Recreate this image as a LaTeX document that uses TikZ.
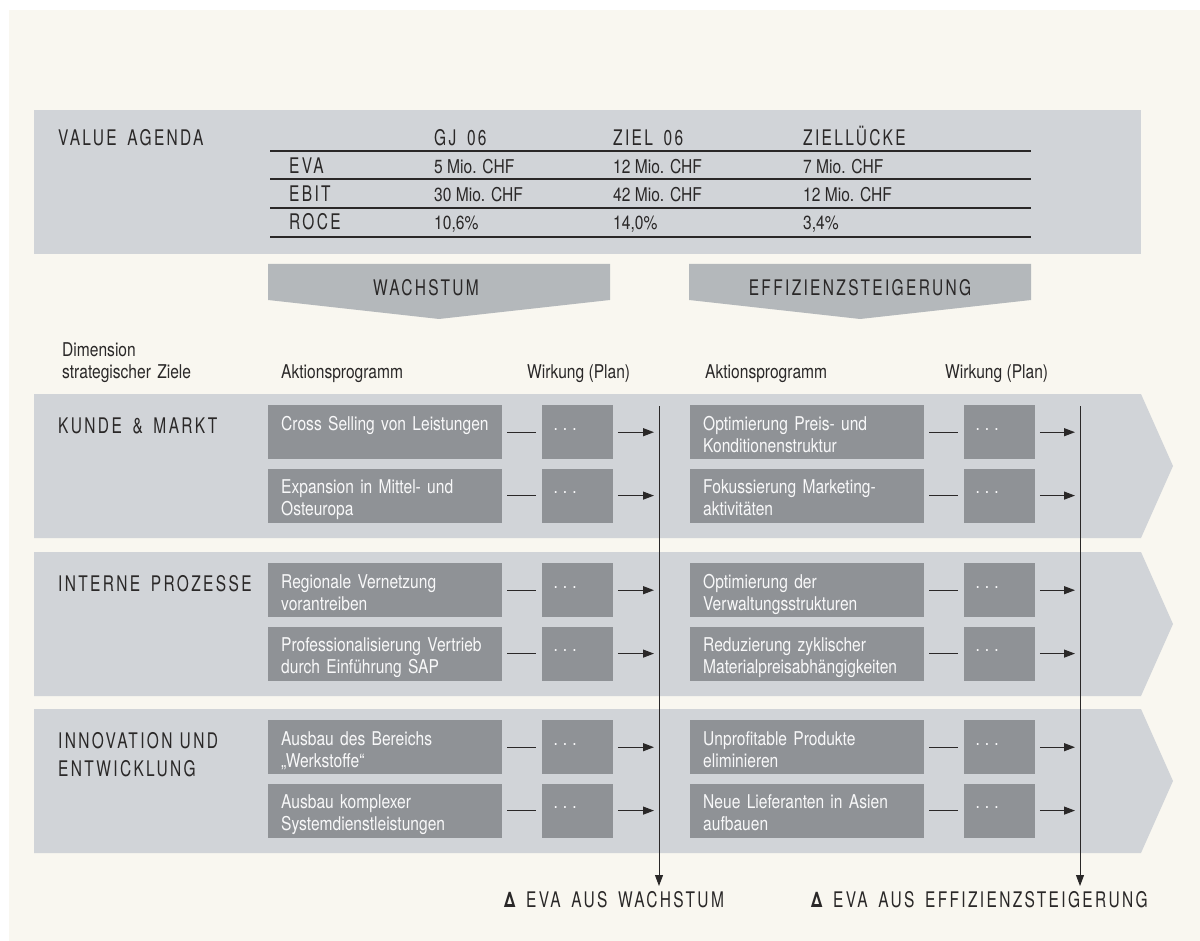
\documentclass[tikz,border=0pt]{standalone}
\usepackage{fontspec}
\setmainfont{TeX Gyre Heros}[FakeStretch=0.82]
\newfontfamily\capsfont{TeX Gyre Heros}[FakeStretch=0.72,LetterSpace=11,WordSpace=1.6]
\usepackage{tikz}
\usetikzlibrary{positioning,arrows.meta}

\definecolor{paper}{HTML}{F9F7F0}
\definecolor{band}{HTML}{D1D4D8}
\definecolor{boxfill}{HTML}{8F9296}
\definecolor{wedge}{HTML}{B4B8BB}
\definecolor{ink}{HTML}{2A2828}

\begin{document}
\begin{tikzpicture}[x=1pt,y=-1pt,node distance=9pt,
    every node/.style={text=ink,font=\fontsize{19}{22}\selectfont,inner sep=0pt},
    heading/.style={font=\capsfont\fontsize{21.5}{28}\selectfont},
    prog/.style={fill=boxfill,text=white!94!boxfill,align=left,text width=208pt,inner xsep=13pt,inner ysep=5pt,text height=20pt,text depth=24pt,anchor=north west},
    eff/.style={prog,text width=47pt,inner xsep=12pt},
    tie/.style={line width=1.2pt,draw=ink},
    hit/.style={tie,-{Triangle[length=11pt,width=8pt]}}]
        \useasboundingbox (0,0) rectangle (1200,941);
        \fill[white] (0,0) rectangle (1200,941);
        \fill[paper] (9,10) rectangle (1200,941);

        % value agenda
        \fill[band] (34,110) rectangle (1141,254);
        \node[heading,anchor=base west] (VA) at (58,146) {VALUE AGENDA};
        \node[heading,anchor=base west] (GJ) at (434,146) {GJ 06};
        \node[heading,anchor=base west] (ZL) at (613,146) {ZIEL 06};
        \node[heading,anchor=base west] (ZD) at (803,146) {ZIELLÜCKE};
        \foreach \y in {151,179,208,237}
            \draw[line width=1.6pt,ink] (270,\y) -- (1031,\y);
        \foreach \y/\k/\a/\b/\c in {174/EVA/5 Mio. CHF/12 Mio. CHF/7 Mio. CHF,
                                    202/EBIT/30 Mio. CHF/42 Mio. CHF/12 Mio. CHF,
                                    230/ROCE/{10,6\%}/{14,0\%}/{3,4\%}}{
            \node[heading,anchor=base west] (\k) at (289,\y) {\k};
            \node[anchor=base west] (\k-gj) at (434,\y) {\a};
            \node[anchor=base west] (\k-zl) at (613,\y) {\b};
            \node[anchor=base west] (\k-zd) at (803,\y) {\c};
        }

        % wedges
        \fill[wedge] (268,264) -- (610,264) -- (610,300) -- (439,319) -- (268,300) -- cycle;
        \fill[wedge] (689,264) -- (1031,264) -- (1031,300) -- (860,319) -- (689,300) -- cycle;
        \node[heading,anchor=base] (wachstum) at (426,296) {WACHSTUM};
        \node[heading,anchor=base] (effizienz) at (860,296) {EFFIZIENZSTEIGERUNG};

        % column heads
        \node[anchor=base west,text width=140pt,align=left] (DIM) at (62,357) {Dimension\\strategischer Ziele};
        \node[anchor=base west] (AP1) at (281,379) {Aktionsprogramm};
        \node[anchor=base west] (WI1) at (527,379) {Wirkung (Plan)};
        \node[anchor=base west] (AP2) at (705,379) {Aktionsprogramm};
        \node[anchor=base west] (WI2) at (945,379) {Wirkung (Plan)};

        % bands
        \foreach \t in {394,552,709}
            \fill[band] (34,\t) -- (1141,\t) -- (1173,\t+72) -- (1141,\t+144) -- (34,\t+144) -- cycle;
        \node[heading,anchor=base west] (KM) at (58,433) {KUNDE \& MARKT};
        \node[heading,anchor=base west] (IP) at (58,591) {INTERNE PROZESSE};
        \node[heading,anchor=base west,text width=200pt,align=left] (IE) at (58,748) {INNOVATION UND\\ENTWICKLUNG};

        % kunde & markt
        \node[prog] (K1-a) at (268,405) {Cross Selling von Leistungen};
        \node[eff,right=39pt of K1-a] (K1-b) {.\hspace{5pt}.\hspace{5pt}.};
        \node[prog] (K1-c) at (690,405) {Optimierung Preis- und\\Konditionenstruktur};
        \node[eff,right=39pt of K1-c] (K1-d) {.\hspace{5pt}.\hspace{5pt}.};
        \node[prog,below=of K1-a] (K2-a) {Expansion in Mittel- und\\Osteuropa};
        \node[eff,right=39pt of K2-a] (K2-b) {.\hspace{5pt}.\hspace{5pt}.};
        \node[prog,below=of K1-c] (K2-c) {Fokussierung Marketing-\\aktivitäten};
        \node[eff,right=39pt of K2-c] (K2-d) {.\hspace{5pt}.\hspace{5pt}.};

        % interne prozesse
        \node[prog] (I1-a) at (268,563) {Regionale Vernetzung\\vorantreiben};
        \node[eff,right=39pt of I1-a] (I1-b) {.\hspace{5pt}.\hspace{5pt}.};
        \node[prog] (I1-c) at (690,563) {Optimierung der\\Verwaltungsstrukturen};
        \node[eff,right=39pt of I1-c] (I1-d) {.\hspace{5pt}.\hspace{5pt}.};
        \node[prog,below=of I1-a] (I2-a) {Professionalisierung Vertrieb\\durch Einführung SAP};
        \node[eff,right=39pt of I2-a] (I2-b) {.\hspace{5pt}.\hspace{5pt}.};
        \node[prog,below=of I1-c] (I2-c) {Reduzierung zyklischer\\Materialpreisabhängigkeiten};
        \node[eff,right=39pt of I2-c] (I2-d) {.\hspace{5pt}.\hspace{5pt}.};

        % innovation und entwicklung
        \node[prog] (E1-a) at (268,720) {Ausbau des Bereichs\\„Werkstoffe“};
        \node[eff,right=39pt of E1-a] (E1-b) {.\hspace{5pt}.\hspace{5pt}.};
        \node[prog] (E1-c) at (690,720) {Unprofitable Produkte\\eliminieren};
        \node[eff,right=39pt of E1-c] (E1-d) {.\hspace{5pt}.\hspace{5pt}.};
        \node[prog,below=of E1-a] (E2-a) {Ausbau komplexer\\Systemdienstleistungen};
        \node[eff,right=39pt of E2-a] (E2-b) {.\hspace{5pt}.\hspace{5pt}.};
        \node[prog,below=of E1-c] (E2-c) {Neue Lieferanten in Asien\\aufbauen};
        \node[eff,right=39pt of E2-c] (E2-d) {.\hspace{5pt}.\hspace{5pt}.};

        % eva lines
        \coordinate (Wtop) at (659,406);
        \coordinate (Wbot) at (659,886);
        \coordinate (Etop) at (1080,406);
        \coordinate (Ebot) at (1080,886);
        \draw[hit,line width=0.9pt] (Wtop) -- (Wbot);
        \draw[hit,line width=0.9pt] (Etop) -- (Ebot);
        \foreach \r in {K1,K2,I1,I2,E1,E2}{
            \draw[tie] ([xshift=5pt]\r-a.east) -- ([xshift=-5pt]\r-b.west);
            \draw[hit] ([xshift=5pt]\r-b.east) -- ([xshift=-5pt]\r-b.east -| Wtop);
            \draw[tie] ([xshift=5pt]\r-c.east) -- ([xshift=-5pt]\r-d.west);
            \draw[hit] ([xshift=5pt]\r-d.east) -- ([xshift=-5pt]\r-d.east -| Etop);
        }
        \node[heading,anchor=base west] (dW) at (504,907) {{\bfseries Δ} EVA AUS WACHSTUM};
        \node[heading,anchor=base west] (dE) at (811,907) {{\bfseries Δ} EVA AUS EFFIZIENZSTEIGERUNG};
    \end{tikzpicture}
\end{document}
